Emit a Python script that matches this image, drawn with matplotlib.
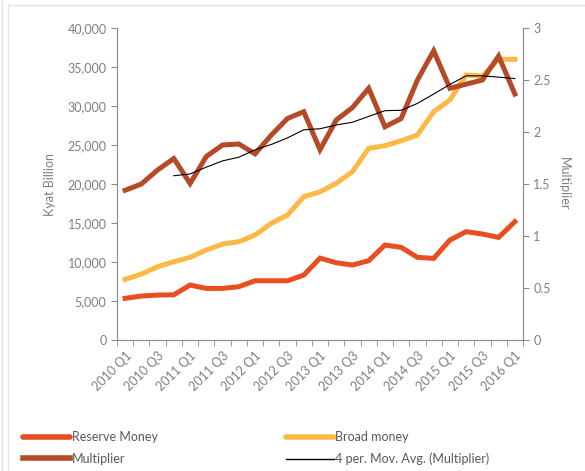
import numpy as np
import pandas as pd
import matplotlib
matplotlib.use('Agg')
import matplotlib.pyplot as plt
from matplotlib.lines import Line2D

plt.rcParams['font.family'] = ['Lato', 'DejaVu Sans']

# quarterly data, 2010 Q1 - 2016 Q1
quarters = [f'{y} Q{q}' for y in range(2010, 2017) for q in range(1, 5)][:25]
reserve_money = [5350, 5640, 5770, 5800, 7050, 6620, 6620, 6840, 7600, 7600,
                 7600, 8330, 10500, 9910, 9620, 10170, 12180, 11880, 10600, 10470,
                 12820, 13890, 13590, 13160, 15170]
broad_money = [7780, 8460, 9400, 10040, 10600, 11540, 12310, 12600, 13460, 14960,
               16030, 18370, 19000, 20090, 21580, 24570, 24910, 25550, 26280, 29270,
               30770, 33970, 33850, 35980, 35980]
multiplier = [1.44, 1.50, 1.635, 1.745, 1.505, 1.765, 1.875, 1.885, 1.79, 1.97,
              2.13, 2.195, 1.83, 2.115, 2.235, 2.42, 2.05, 2.13, 2.50, 2.78,
              2.42, 2.46, 2.50, 2.73, 2.365]

# Excel style trailing 4 period moving average trendline
mov_avg = pd.Series(multiplier).rolling(4).mean()

c_reserve = '#E84E1F'
c_broad = '#FDB946'
c_mult = '#B44A27'
c_text = '#7f7f7f'
c_axis = '#8c8c8c'

fig = plt.figure(figsize=(5.85, 4.71), dpi=100)
ax = fig.add_axes([0.2, 0.278, 0.694, 0.6626])
ax2 = ax.twinx()

x = np.arange(len(quarters))
ax.plot(x, reserve_money, color=c_reserve, lw=3.6, solid_joinstyle='miter')
ax.plot(x, broad_money, color=c_broad, lw=3.6, solid_joinstyle='miter')
ax2.plot(x, multiplier, color=c_mult, lw=3.6, solid_joinstyle='miter')
ax2.plot(x, mov_avg, color='black', lw=0.8)

ax.set_xlim(-0.5, len(quarters) - 0.5)
ax.set_ylim(0, 40000)
ax2.set_ylim(0, 3)

ax.set_yticks(np.arange(0, 40001, 5000))
ax.set_yticklabels([f'{v:,}' for v in range(0, 40001, 5000)])
ax2.set_yticks(np.arange(0, 3.01, 0.5))
ax2.set_yticklabels(['0', '0.5', '1', '1.5', '2', '2.5', '3'])

ax.set_xticks(x[::2])
ax.set_xticklabels(quarters[::2], rotation=45, ha='right', rotation_mode='anchor')
ax.set_xticks(np.arange(-0.5, len(quarters)), minor=True)
ax.tick_params(axis='x', which='major', length=0, pad=7)
ax.tick_params(axis='x', which='minor', length=4, color=c_axis, direction='out')

for a in (ax, ax2):
    a.spines['top'].set_visible(False)
    for s in ('left', 'right', 'bottom'):
        a.spines[s].set_color(c_axis)
    a.tick_params(labelsize=9, labelcolor=c_text, color=c_axis)
ax.tick_params(axis='y', length=4)
ax2.tick_params(axis='y', length=4)

ax.set_ylabel('Kyat Billion', color=c_text, fontsize=9, labelpad=8)
ax2.set_ylabel('Multiplier', color=c_text, fontsize=9, rotation=270, labelpad=14)

handles = [
    Line2D([], [], color=c_reserve, lw=4, solid_capstyle='round'),
    Line2D([], [], color=c_mult, lw=4),
    Line2D([], [], color=c_broad, lw=4, solid_capstyle='round'),
    Line2D([], [], color='black', lw=1),
]
labels = ['Reserve Money', 'Multiplier', 'Broad money', '4 per. Mov. Avg. (Multiplier)']
fig.legend(handles, labels, ncol=2, loc='lower left', bbox_to_anchor=(0.02, -0.012),
           frameon=False, fontsize=9, labelcolor='#595959', handlelength=3.8,
           handletextpad=0.1, columnspacing=10.3, labelspacing=0.75)

# light frame of the original picture
fig.add_artist(Line2D([0.004, 0.004], [0, 1], color='#e2e2e2', lw=1))
fig.add_artist(Line2D([0.013, 0.013], [0, 0.99], color='#e2e2e2', lw=1))
fig.add_artist(Line2D([0.013, 1], [0.99, 0.99], color='#e2e2e2', lw=1))

fig.savefig('out.png', dpi=100)
